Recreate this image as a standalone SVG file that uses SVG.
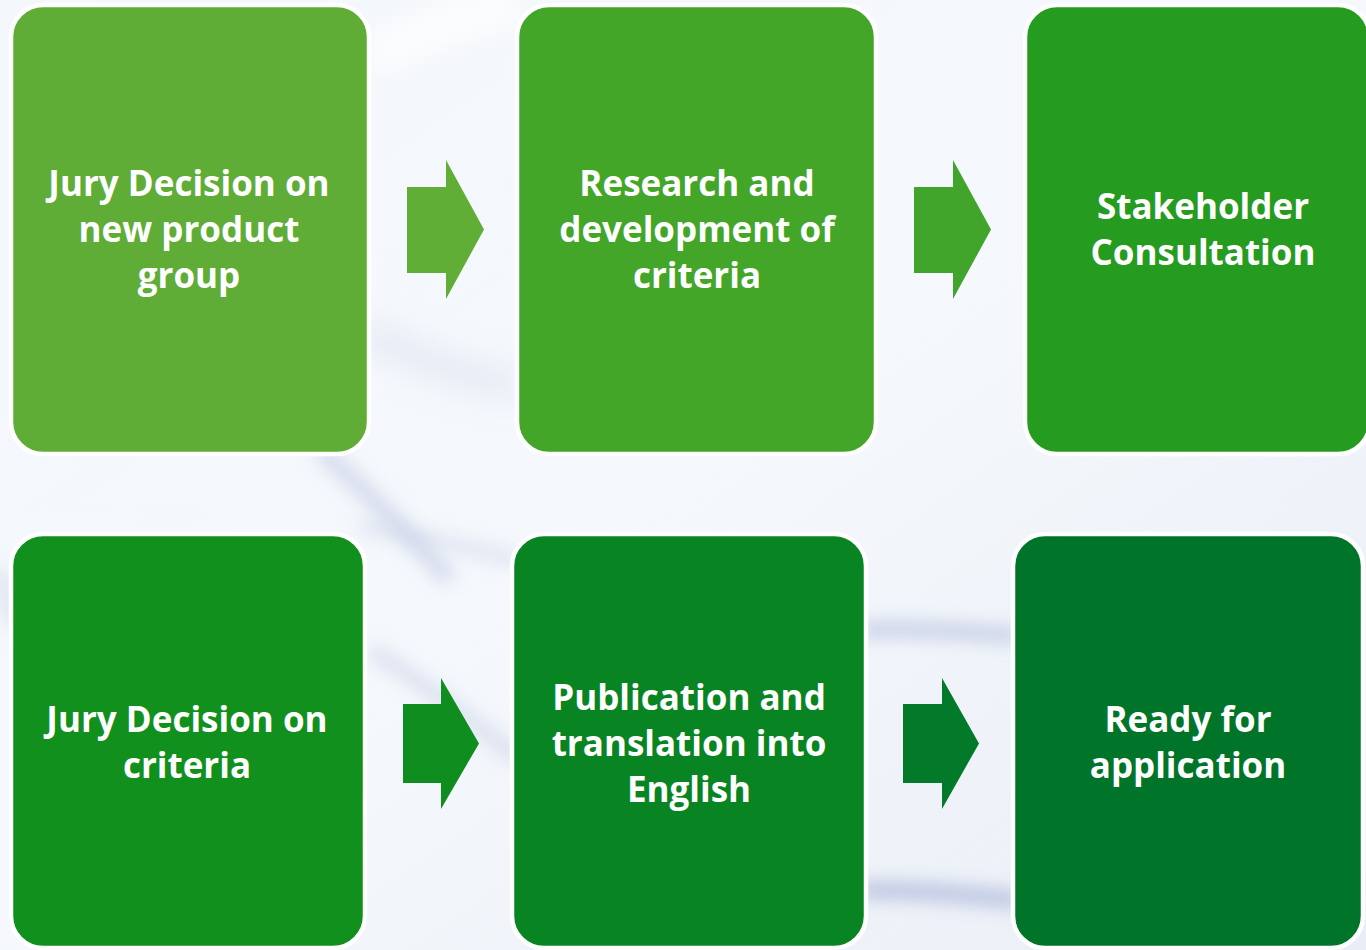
<svg xmlns="http://www.w3.org/2000/svg" width="1366" height="950" viewBox="0 0 1366 950">
<style>
.box{stroke:#FFFFFF;stroke-width:4.5}
.lbl{font-family:"Open Sans","Lato","Liberation Sans",sans-serif;font-weight:700;font-size:35px;fill:#FFFFFF;text-anchor:middle;font-variant-ligatures:none}
.streak{fill:none;filter:url(#blur)}
</style>
<defs>
<linearGradient id="bg" x1="0" y1="0" x2="1" y2="1">
<stop offset="0" stop-color="#F4F7FB"/>
<stop offset="0.5" stop-color="#F5F8FC"/>
<stop offset="1" stop-color="#E9EEF6"/>
</linearGradient>
<filter id="blur" filterUnits="userSpaceOnUse" x="0" y="0" width="1366" height="950"><feGaussianBlur stdDeviation="9"/></filter>
<filter id="blur2" filterUnits="userSpaceOnUse" x="0" y="0" width="1366" height="950"><feGaussianBlur stdDeviation="16"/></filter>
</defs>
<g id="background">
<rect x="0" y="0" width="1366" height="950" fill="url(#bg)"/>
<path d="M370,60 C420,30 470,15 520,5" stroke="#FFFFFF" stroke-width="30" fill="none" filter="url(#blur2)" opacity="0.9"/>
<path d="M360,330 C420,360 470,380 520,385" stroke="#DCE3F0" stroke-width="18" fill="none" filter="url(#blur2)"/>
<path class="streak" d="M320,450 C360,485 400,525 450,580" stroke="#B9C3DF" stroke-width="16" opacity="0.6"/>
<path class="streak" d="M360,525 C420,538 470,548 520,560" stroke="#C9D1E7" stroke-width="12" opacity="0.6"/>
<path class="streak" d="M370,650 C420,680 470,720 520,760" stroke="#C3CCE4" stroke-width="14" opacity="0.6"/>
<path class="streak" d="M0,570 C5,590 8,600 14,625" stroke="#C3CCE4" stroke-width="12" opacity="0.6"/>
<path class="streak" d="M860,630 C920,628 970,632 1020,636" stroke="#B7C1DD" stroke-width="14" opacity="0.8"/>
<path class="streak" d="M860,890 C920,890 970,895 1020,900" stroke="#AEB8DA" stroke-width="16" opacity="0.85"/>
</g>
<g id="connectors">
<path id="arrow1" d="M407,187 H446 V160 L484,229.5 L446,299 V273 H407 Z" fill="#60AE36"/>
<path id="arrow2" d="M914,187 H953 V160 L991,229.5 L953,299 V273 H914 Z" fill="#40A52A"/>
<path id="arrow3" d="M403,704 H441 V678 L479,743.5 L441,809 V783 H403 Z" fill="#0F8D1F"/>
<path id="arrow4" d="M903,704 H942 V678 L979,743.5 L942,809 V783 H903 Z" fill="#037A29"/>
</g>
<g id="node1">
<rect class="box" x="11" y="5" width="358" height="449" rx="32" fill="#5FAD37"/>
<text class="lbl"><tspan x="189" y="196">Jury Decision on</tspan><tspan x="189" y="242">new product</tspan><tspan x="189" y="288">group</tspan></text>
</g>
<g id="node2">
<rect class="box" x="517" y="5" width="359" height="449" rx="32" fill="#43A629"/>
<text class="lbl"><tspan x="697" y="196">Research and</tspan><tspan x="697" y="242">development of</tspan><tspan x="697" y="288">criteria</tspan></text>
</g>
<g id="node3">
<rect class="box" x="1025" y="5" width="345" height="449" rx="32" fill="#259C1F"/>
<text class="lbl"><tspan x="1203" y="219">Stakeholder</tspan><tspan x="1203" y="265">Consultation</tspan></text>
</g>
<g id="node4">
<rect class="box" x="11" y="534" width="354" height="414" rx="32" fill="#12901D"/>
<text class="lbl"><tspan x="187" y="732">Jury Decision on</tspan><tspan x="187" y="778">criteria</tspan></text>
</g>
<g id="node5">
<rect class="box" x="512" y="534" width="354" height="414" rx="32" fill="#088522"/>
<text class="lbl"><tspan x="689" y="710">Publication and</tspan><tspan x="689" y="756">translation into</tspan><tspan x="689" y="802">English</tspan></text>
</g>
<g id="node6">
<rect class="box" x="1013" y="534" width="350" height="414" rx="32" fill="#00752A"/>
<text class="lbl"><tspan x="1188" y="732">Ready for</tspan><tspan x="1188" y="778">application</tspan></text>
</g>
</svg>
